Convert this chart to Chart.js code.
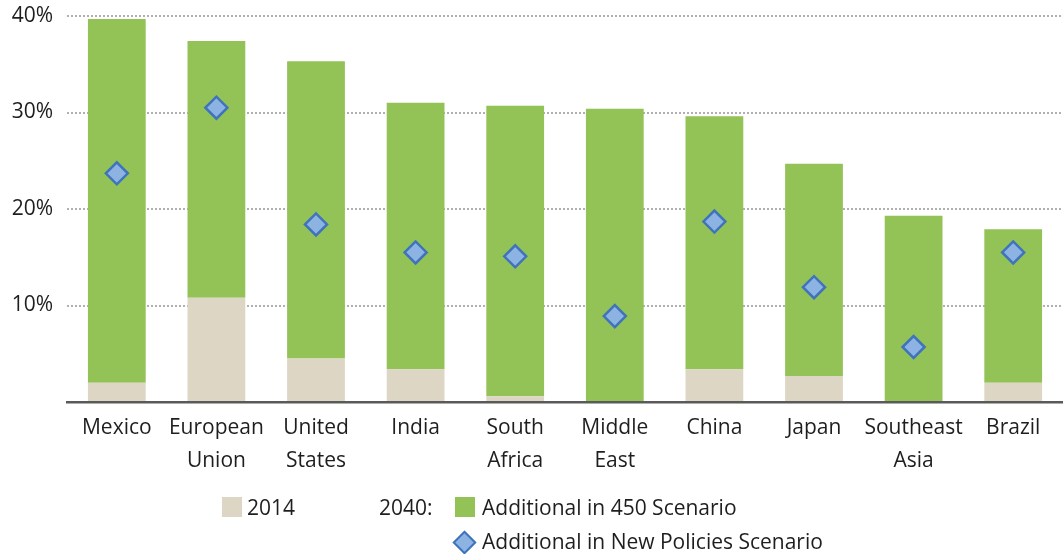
<!DOCTYPE html>
<html>
<head>
<meta charset="utf-8">
<script src="https://cdn.jsdelivr.net/npm/chart.js@4/dist/chart.umd.min.js"></script>
<style>
  html, body { margin: 0; padding: 0; background: #fff; }
  #wrap { position: relative; width: 1063px; height: 554px; overflow: hidden; }
  #chart { position: absolute; left: 0; top: 0; }
  .legend { position: absolute; font-family: "Open Sans", sans-serif; font-size: 21px; color: #1e1e1e; line-height: 24px; white-space: nowrap; }
  .sw { position: absolute; width: 20px; height: 20px; }
  .dia { position: absolute; width: 13px; height: 13px; background: #8db3e2; border: 2px solid #3f74bd; transform: rotate(45deg); }
</style>
</head>
<body>
<div id="wrap">
  <canvas id="chart" width="1063" height="554"></canvas>
  <div class="sw" style="left:222px; top:497px; background:#ddd6c4;"></div>
  <div class="legend" style="left:247px; top:495px;">2014</div>
  <div class="legend" style="left:379px; top:495px;">2040:</div>
  <div class="sw" style="left:455px; top:497px; background:#93c256;"></div>
  <div class="legend" style="left:482px; top:495px;">Additional in 450 Scenario</div>
  <div class="dia" style="left:456px; top:534px;"></div>
  <div class="legend" style="left:482px; top:529px;">Additional in New Policies Scenario</div>
</div>
<script>
  // regions, left to right
  var regions = [
    'Mexico', ['European', 'Union'], ['United', 'States'], 'India', ['South', 'Africa'],
    ['Middle', 'East'], 'China', 'Japan', ['Southeast', 'Asia'], 'Brazil'
  ];

  // shares in %, 2014 level
  var share2014 = [2.0, 10.8, 4.5, 3.4, 0.6, 0.0, 3.4, 2.7, 0.0, 2.0];
  // extra on top of 2014 reached by 2040 in the 450 Scenario
  var extra450 = [37.7, 26.6, 30.8, 27.6, 30.1, 30.4, 26.2, 22.0, 19.3, 15.9];
  // 2040 level in the New Policies Scenario
  var newPolicies = [23.7, 30.5, 18.4, 15.5, 15.1, 8.9, 18.7, 11.9, 5.7, 15.5];

  var yTicks = [0, 10, 20, 30, 40];

  var font = { family: '"Open Sans", sans-serif', size: 21 };

  new Chart(document.getElementById('chart'), {
    data: {
      labels: regions,
      datasets: [
        {
          type: 'line',
          label: 'Additional in New Policies Scenario',
          data: newPolicies,
          stack: 'np',
          order: 0,
          showLine: false,
          pointStyle: 'rectRot',
          pointRadius: 11,
          pointHoverRadius: 11,
          pointBackgroundColor: '#8db3e2',
          pointBorderColor: '#3f74bd',
          pointBorderWidth: 2.5
        },
        {
          type: 'bar',
          label: '2014',
          data: share2014,
          stack: 'bars',
          order: 1,
          backgroundColor: '#ddd6c4',
          barPercentage: 0.58,
          categoryPercentage: 1
        },
        {
          type: 'bar',
          label: 'Additional in 450 Scenario',
          data: extra450,
          stack: 'bars',
          order: 1,
          backgroundColor: '#93c256',
          barPercentage: 0.58,
          categoryPercentage: 1
        }
      ]
    },
    options: {
      responsive: false,
      animation: false,
      layout: { autoPadding: false, padding: { top: 16, right: -4, bottom: 72, left: 0 } },
      plugins: { legend: { display: false }, tooltip: { enabled: false } },
      scales: {
        x: {
          stacked: true,
          grid: { display: false },
          border: { display: true, color: '#5a5a5a', width: 2.5 },
          ticks: { color: '#1e1e1e', font: { family: font.family, size: 21, lineHeight: 1.55 }, padding: 2, maxRotation: 0, autoSkip: false },
          afterFit: function(scale) {
            scale.height = 80;
            scale.paddingLeft = 0;
            scale.paddingRight = 0;
          }
        },
        y: {
          stacked: true,
          min: 0,
          max: 40,
          afterBuildTicks: function(scale) {
            scale.ticks = yTicks.map(function(v) { return { value: v }; });
          },
          afterFit: function(scale) {
            scale.width = 67;
            scale.paddingTop = 0;
            scale.paddingBottom = 0;
          },
          border: { display: false, dash: [2, 2] },
          grid: {
            color: function(ctx) { return ctx.tick && ctx.tick.value === 0 ? 'rgba(0,0,0,0)' : '#b0b0b0'; },
            lineWidth: 2,
            drawTicks: false
          },
          ticks: {
            color: '#1e1e1e',
            font: font,
            padding: 14,
            callback: function(v) { return v === 0 ? '' : v + '%'; }
          }
        }
      }
    }
  });
</script>
</body>
</html>
